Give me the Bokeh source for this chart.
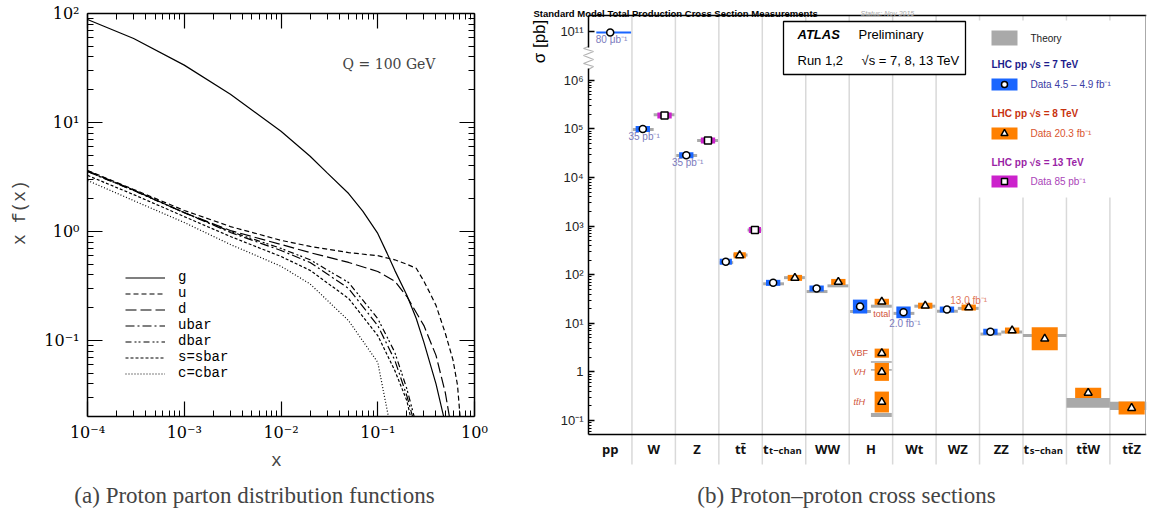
import math
from bokeh.plotting import figure
from bokeh.models import (Range1d, FixedTicker, LogAxis, Label, Legend, LegendItem,
                          PolyAnnotation, BoxAnnotation)
from bokeh.layouts import row
from bokeh.embed import file_html
from bokeh.resources import INLINE
from bokeh.core.properties import value

# ---------------- Panel (a) data: x f(x) at Q = 100 GeV ----------------
pdf_labels = ["g", "u", "d", "ubar", "dbar", "s=sbar", "c=cbar"]
g_x = [1e-4, 3e-4, 1e-3, 3e-3, 1e-2, 2e-2, 3e-2, 5e-2, 0.07, 0.1, 0.125, 0.15, 0.2, 0.25,
       0.3, 0.4, 0.48]
g_y = [88, 59, 33.6, 18.2, 8.3, 4.9, 3.45, 2.23, 1.54, 0.96, 0.63, 0.44, 0.26, 0.159,
       0.096, 0.040, 0.020]
u_x = [1e-4, 3e-4, 1e-3, 3e-3, 1e-2, 2e-2, 5e-2, 0.1, 0.15, 0.2, 0.25, 0.3, 0.35, 0.4,
       0.5, 0.6, 0.667, 0.71]
u_y = [3.63, 2.43, 1.56, 1.11, 0.83, 0.73, 0.64, 0.60, 0.55, 0.50, 0.46, 0.35, 0.267,
       0.21, 0.116, 0.066, 0.039, 0.020]
d_x = [1e-4, 3e-4, 1e-3, 3e-3, 1e-2, 2e-2, 5e-2, 0.1, 0.15, 0.2, 0.3, 0.4, 0.5, 0.55]
d_y = [3.6, 2.4, 1.49, 1.02, 0.76, 0.64, 0.52, 0.43, 0.35, 0.253, 0.137, 0.073, 0.033, 0.020]
ubar_x = [1e-4, 3e-4, 1e-3, 3e-3, 1e-2, 2e-2, 5e-2, 0.1, 0.15, 0.2, 0.229]
ubar_y = [3.55, 2.38, 1.49, 0.98, 0.67, 0.52, 0.30, 0.137, 0.066, 0.031, 0.020]
dbar_x = [1e-4, 3e-4, 1e-3, 3e-3, 1e-2, 2e-2, 5e-2, 0.1, 0.15, 0.2, 0.238]
dbar_y = [3.55, 2.38, 1.49, 1.00, 0.70, 0.55, 0.34, 0.159, 0.078, 0.036, 0.020]
s_x = [1e-4, 3e-4, 1e-3, 3e-3, 1e-2, 2e-2, 5e-2, 0.1, 0.15, 0.2, 0.218]
s_y = [3.27, 2.18, 1.37, 0.90, 0.59, 0.44, 0.243, 0.111, 0.053, 0.028, 0.020]
c_x = [1e-4, 3e-4, 1e-3, 3e-3, 1e-2, 2e-2, 5e-2, 0.1, 0.129]
c_y = [2.94, 1.92, 1.21, 0.76, 0.48, 0.33, 0.152, 0.063, 0.020]

pdf_xticks = [1e-4, 1e-3, 1e-2, 1e-1, 1.0]
pdf_xtick_labels = ["10⁻⁴", "10⁻³", "10⁻²", "10⁻¹", "10⁰"]
pdf_yticks = [0.1, 1.0, 10.0, 100.0]
pdf_ytick_labels = ["10⁻¹", "10⁰", "10¹", "10²"]
pdf_xlim = (1e-4, 1.0)
pdf_ylim = (10 ** -1.7, 100.0)

# ---------------- Panel (b) data: ATLAS cross sections [pb] ----------------
categories = ["pp", "W", "Z", "tt̄", "t_t−chan", "WW", "H", "Wt", "WZ", "ZZ",
              "t_s−chan", "tt̄W", "tt̄Z"]
sigma_ticks = [0.1, 1, 10, 100, 1e3, 1e4, 1e5, 1e6, 1e11]
sigma_tick_labels = ["10⁻¹", "1", "10¹", "10²", "10³", "10⁴", "10⁵", "10⁶", "10¹¹"]

cat7 = ["pp", "W", "Z", "tt̄", "t_t−chan", "WW", "H", "Wt", "WZ", "ZZ"]
data7 = [9.6e10, 9.9e4, 2.88e4, 185, 68, 52, 22.1, 16.8, 19.2, 6.7]
unc7 = [0.0, 0.03, 0.03, 0.04, 0.10, 0.08, 0.39, 0.32, 0.08, 0.08]
theo7 = [None, 9.7e4, 2.85e4, 177, 65, 45, 17.5, 16.0, 17.7, 6.0]
theo7_unc = [0, 0, 0, 0, 0, 0, 0, 0, 0, 0]

cat8 = ["tt̄", "t_t−chan", "WW", "H", "Wt", "WZ", "ZZ", "t_s−chan", "tt̄W", "tt̄Z"]
data8 = [250, 86, 71, 27.7, 23.0, 21.1, 7.1, 4.8, 0.37, 0.18]
unc8 = [0.04, 0.10, 0.08, 0.10, 0.12, 0.06, 0.06, 0.72, 0.27, 0.36]
theo8 = [253, 87, 59, 22.5, 22.5, 20.3, 6.6, 5.6, 0.23, 0.20]
theo8_unc = [0, 0, 0, 0, 0, 0, 0, 0, 0.26, 0.22]

cat13 = ["W", "Z", "tt̄"]
data13 = [1.89e5, 5.77e4, 830]
unc13 = [0.04, 0.04, 0.05]
theo13 = [1.95e5, 5.8e4, 830]
theo13_unc = [0, 0, 0]

higgs_modes = ["VBF", "VH", "tt̄H"]
higgs_data8 = [2.43, 1.0, 0.24]
higgs_unc8 = [0.24, 0.53, 0.64]
higgs_theo8 = [1.6, 1.1, 0.13]
higgs_theo8_unc = [0, 0, 0.1]

lumi_notes7 = {"pp": "80 μb⁻¹", "W": "35 pb⁻¹", "Z": "35 pb⁻¹", "Wt": "2.0 fb⁻¹"}
lumi_notes8 = {"WZ": "13.0 fb⁻¹"}

BORDER = 5
H = 516


# =====================================================================
# Panel (a)
# =====================================================================
def LX(px):
    return 10 ** ((px - 87) / 96.75 - 4)


def LY(py):
    return 10 ** (2 - (py - 13) / 109)


WA = 500
pa = figure(width=WA, height=H, x_axis_type="log", y_axis_type="log",
            x_range=Range1d(LX(BORDER), LX(WA - BORDER)),
            y_range=Range1d(LY(H - BORDER), LY(BORDER)),
            output_backend="svg", toolbar_location=None, min_border=BORDER,
            outline_line_color=None, background_fill_color="white",
            border_fill_color="white")
pa.grid.visible = False

x_minor = [m * 10 ** k for k in range(-4, 0) for m in range(2, 10)]
y_minor = [m * 10 ** k for k in range(-2, 2) for m in range(2, 10) if m * 10 ** k > 0.021]


def style_axis(ax, ticks, minor, loc, bounds, tin=15, tmin=6):
    ax.ticker = FixedTicker(ticks=ticks, minor_ticks=minor)
    ax.fixed_location = loc
    ax.bounds = bounds
    ax.major_tick_in = tin
    ax.major_tick_out = 0
    ax.minor_tick_in = tmin
    ax.minor_tick_out = 0
    ax.major_tick_line_width = 1.2
    ax.minor_tick_line_width = 1
    ax.axis_line_width = 1.5
    ax.major_label_text_font_size = "1px"
    ax.major_label_text_alpha = 0
    ax.major_label_standoff = 0


style_axis(pa.xaxis[0], pdf_xticks, x_minor, pdf_ylim[0], pdf_xlim)
style_axis(pa.yaxis[0], pdf_yticks, y_minor, pdf_xlim[0], pdf_ylim)
top_ax = LogAxis()
style_axis(top_ax, pdf_xticks, x_minor, pdf_ylim[1], pdf_xlim)
pa.add_layout(top_ax, "above")
right_ax = LogAxis()
style_axis(right_ax, pdf_yticks, y_minor, pdf_xlim[1], pdf_ylim)
pa.add_layout(right_ax, "right")

for t, lab in zip(pdf_xticks, pdf_xtick_labels):
    pa.add_layout(Label(x=t, y=LY(432), text=lab, text_align="center",
                        text_baseline="middle", text_font="DejaVu Serif",
                        text_font_size="16px", text_color="black"))
for t, lab in zip(pdf_yticks, pdf_ytick_labels):
    pa.add_layout(Label(x=LX(79), y=t, text=lab, text_align="right",
                        text_baseline="middle", text_font="DejaVu Serif",
                        text_font_size="16px", text_color="black"))

curves = [(g_x, g_y, "solid"), (u_x, u_y, "5 3"), (d_x, d_y, "11 4"),
          (ubar_x, ubar_y, "9 3 2 3"), (dbar_x, dbar_y, "6 3 2 2 2 3"),
          (s_x, s_y, "3 2"), (c_x, c_y, "1 2")]
items = []
for (xs, ys, dash), name in zip(curves, pdf_labels):
    r = pa.line(xs, ys, line_color="black", line_width=1.2, line_dash=dash)
    items.append(LegendItem(label=name, renderers=[r]))

leg = Legend(items=items, location=(125 - BORDER, H - BORDER - 381), orientation="vertical",
             glyph_width=40, glyph_height=15, label_height=15, label_standoff=13,
             spacing=0, padding=0, margin=0, border_line_color=None,
             background_fill_alpha=0, label_text_font="Liberation Mono",
             label_text_font_size="14px", label_text_color="black")
pa.add_layout(leg)

pa.add_layout(Label(x=LX(19), y=LY(212), text="x f(x)", angle=math.pi / 2,
                    text_align="center", text_baseline="middle",
                    text_font="Liberation Mono", text_font_size="18px"))
pa.add_layout(Label(x=LX(276), y=LY(460), text="x", text_align="center",
                    text_baseline="middle", text_font="Liberation Mono",
                    text_font_size="18px"))
pa.add_layout(Label(x=LX(393), y=LY(63), text="Q  =  100 GeV", text_align="center",
                    text_baseline="middle", text_font="DejaVu Serif",
                    text_font_size="14px"))
pa.add_layout(Label(x=LX(254), y=LY(495), text="(a) Proton parton distribution functions",
                    text_align="center", text_baseline="middle",
                    text_font="Liberation Serif", text_font_size="23px"))

# =====================================================================
# Panel (b)
# =====================================================================
COLW = 43.45
PXDEC = 1 / 48.6
X0 = 500  # left edge of panel (b) in picture pixels


def X(px):
    return (px - 588) / COLW


def Y(py):
    return 10 ** (-1 - (py - 420) * PXDEC)


def brk(v):
    return v / 1e4 if v > 1e7 else v


WB = 651
pb = figure(width=WB, height=H, y_axis_type="log",
            x_range=Range1d(X(X0 + BORDER), X(X0 + WB - BORDER)),
            y_range=Range1d(Y(H - BORDER), Y(BORDER)),
            output_backend="svg", toolbar_location=None, min_border=BORDER,
            outline_line_color=None, background_fill_color="white",
            border_fill_color="white")
pb.xaxis.visible = False
pb.grid.visible = False

XEND = X(1146)
ybot = Y(434)
ytop = Y(15)

# column separators
pb.segment(x0=list(range(1, len(categories))), y0=[Y(464)] * (len(categories) - 1),
           x1=list(range(1, len(categories))), y1=[ytop] * (len(categories) - 1),
           line_color="#d9d9d9", line_width=1.5)

yax = pb.yaxis[0]
ytk = [brk(t) for t in sigma_ticks]
ymin = [m * 10 ** k for k in range(-2, 6) for m in range(2, 10) if m * 10 ** k > 0.055]
yax.ticker = FixedTicker(ticks=ytk, minor_ticks=ymin)
yax.fixed_location = 0
yax.bounds = (ybot, ytop)
yax.axis_line_width = 1.5
yax.major_tick_in = 6
yax.major_tick_out = 0
yax.minor_tick_in = 3
yax.minor_tick_out = 0
yax.major_tick_line_width = 1.3
yax.major_label_text_font_size = "1px"
yax.major_label_text_alpha = 0
yax.major_label_standoff = 0
for t, lab in zip(ytk, sigma_tick_labels):
    pb.add_layout(Label(x=X(583), y=t, text=lab, text_align="right", text_baseline="middle",
                        text_font="Liberation Sans", text_font_size="13px",
                        text_color="#222222"))

# frame lines
pb.segment(x0=[0, 0], y0=[ybot, ytop], x1=[XEND, XEND], y1=[ybot, ytop],
           line_color="black", line_width=1.5)
pb.segment(x0=[X(1145)], y0=[ybot], x1=[X(1145)], y1=[ytop], line_color="#555555",
           line_width=1, line_dash="1 1")
# axis break
pb.add_layout(BoxAnnotation(left=X(585), right=X(591), bottom=Y(68), top=Y(47),
                            fill_color="white", fill_alpha=1, line_color=None))
zz_px = [(588, 69), (593, 66), (583, 63), (593, 59), (583, 55), (593, 51), (583, 48), (588, 46)]
zx = [X(a) for a, b in zz_px]
zy = [Y(b) for a, b in zz_px]
pb.add_layout(PolyAnnotation(xs=zx + zx[::-1], ys=zy + zy[::-1], fill_alpha=0,
                             line_color="black", line_width=1.2))

# category labels
ycat = Y(448)
main_x, main_t, sub_x, sub_t = [], [], [], []
for i, c in enumerate(categories):
    if "_" in c:
        a, b = c.split("_")
        main_x.append(i + 0.5 - 15.5 / COLW)
        main_t.append(a)
        sub_x.append(i + 0.5 - 15 / COLW)
        sub_t.append(b)
    else:
        main_x.append(i + 0.5)
        main_t.append(c)
align = ["right" if "_" in c else "center" for c in categories]
pb.text(x=main_x, y=[ycat] * len(main_x), text=main_t, text_align=align,
        text_baseline="middle", text_font=value("Open Sans"), text_font_size="13px",
        text_font_style="bold", text_color="#111111")
pb.text(x=sub_x, y=[Y(450)] * len(sub_x), text=sub_t, text_align="left",
        text_baseline="middle", text_font=value("Open Sans"), text_font_size="9.5px",
        text_font_style="bold", text_color="#111111")

# measurements
col_of = {c: i for i, c in enumerate(categories)}
energy_sets = [(7, cat7, data7, unc7, theo7, theo7_unc),
               (8, cat8, data8, unc8, theo8, theo8_unc),
               (13, cat13, data13, unc13, theo13, theo13_unc)]
present = {}
for e, cats, *_ in energy_sets:
    for c in cats:
        present.setdefault(c, []).append(e)
SLOT_X = {1: [0.5], 2: [0.25, 0.75], 3: [0.16, 0.48, 0.83]}
SLOT_TH = {1: [(0.0, 1.0)], 2: [(0.02, 0.5), (0.5, 0.98)],
           3: [(0.02, 0.33), (0.33, 0.66), (0.66, 0.98)]}
HALF_W = {1: 0.3, 2: 0.165, 3: 0.14}
COLORS = {7: "#1a66ff", 8: "#ff8000", 13: "#cc22cc"}
MARK = {7: ("circle", 7), 8: ("triangle", 8), 13: ("square", 7)}
THEORY = "#a9a9a9"


def band(v, rel, min_px):
    f = max(1 + rel, 10 ** (min_px * PXDEC))
    return brk(v / f), brk(v * f)


th = dict(left=[], right=[], bottom=[], top=[])
bx = {e: dict(left=[], right=[], bottom=[], top=[]) for e in (7, 8, 13)}
mk = {e: dict(x=[], y=[]) for e in (7, 8, 13)}
centers = {}
for e, cats, vals, uncs, ths, thu in energy_sets:
    for c, v, u, t, tu in zip(cats, vals, uncs, ths, thu):
        i = col_of[c]
        n = len(present[c])
        k = sorted(present[c]).index(e)
        xc = i + SLOT_X[n][k]
        centers[(c, e)] = (xc, v)
        if t is not None:
            lo, hi = band(t, tu, 1.5)
            a, b = SLOT_TH[n][k]
            th["left"].append(i + a)
            th["right"].append(min(i + b, XEND))
            th["bottom"].append(lo)
            th["top"].append(hi)
            lo, hi = band(v, u, 3)
            bx[e]["left"].append(xc - HALF_W[n])
            bx[e]["right"].append(xc + HALF_W[n])
        else:
            lo, hi = band(v, u, 1)
            bx[e]["left"].append(xc - 0.32)
            bx[e]["right"].append(xc + 0.48)
        bx[e]["bottom"].append(lo)
        bx[e]["top"].append(hi)
        mk[e]["x"].append(xc)
        mk[e]["y"].append(brk(v))

hi_col = col_of["H"]
for m, v, u, t, tu in zip(higgs_modes, higgs_data8, higgs_unc8, higgs_theo8, higgs_theo8_unc):
    xc = hi_col + 0.75
    lo, hi = band(t, tu, 0.8 if tu == 0 else 1.5)
    th["left"].append(hi_col + 0.5)
    th["right"].append(hi_col + 0.98)
    th["bottom"].append(lo)
    th["top"].append(hi)
    lo, hi = band(v, u, 3)
    bx[8]["left"].append(xc - 0.165)
    bx[8]["right"].append(xc + 0.165)
    bx[8]["bottom"].append(lo)
    bx[8]["top"].append(hi)
    mk[8]["x"].append(xc)
    mk[8]["y"].append(v)

pb.quad(left=th["left"], right=th["right"], bottom=th["bottom"], top=th["top"],
        fill_color=THEORY, line_color=None)
for e in (7, 8, 13):
    pb.quad(left=bx[e]["left"], right=bx[e]["right"], bottom=bx[e]["bottom"],
            top=bx[e]["top"], fill_color=COLORS[e], line_color=None)
for e in (7, 8, 13):
    mname, msize = MARK[e]
    pb.scatter(mk[e]["x"], mk[e]["y"], marker=mname, size=msize, fill_color="white",
               line_color="black", line_width=1.5)

# annotations near points
for c, txt in lumi_notes7.items():
    xc, v = centers[(c, 7)]
    dy = 11 if c == "Wt" else 7
    pb.add_layout(Label(x=xc + 0.03, y=brk(v) * 10 ** (-dy * PXDEC), text=txt,
                        text_align="center", text_baseline="middle",
                        text_font="Liberation Sans", text_font_size="10px",
                        text_color="#7b7bbd"))
for c, txt in lumi_notes8.items():
    xc, v = centers[(c, 8)]
    pb.add_layout(Label(x=xc, y=v * 10 ** (7 * PXDEC), text=txt, text_align="center",
                        text_baseline="middle", text_font="Liberation Sans",
                        text_font_size="10px", text_color="#e0765a"))
xc, v = centers[("H", 8)]
pb.add_layout(Label(x=xc, y=v * 10 ** (-12 * PXDEC), text="total", text_align="center",
                    text_baseline="middle", text_font="Liberation Sans",
                    text_font_size="9px", text_color="#d0543a"))
for m, v in zip(higgs_modes, higgs_data8):
    pb.add_layout(Label(x=hi_col + 0.23, y=v, text=m, text_align="center",
                        text_baseline="middle", text_font="Liberation Sans",
                        text_font_size="9px", text_color="#d0543a",
                        text_font_style="normal" if m == "VBF" else "italic"))

# ATLAS box
pb.quad(left=[X(783)], right=[X(965)], bottom=[Y(74)], top=[Y(21)], fill_color="white",
        line_color="black", line_width=1.3)
for txt, px, py, style in [("ATLAS", 797, 34, "bold italic"), ("Preliminary", 858, 34, "normal"),
                           ("Run 1,2", 797, 60, "normal"), ("√s = 7, 8, 13 TeV", 861, 60, "normal")]:
    pb.add_layout(Label(x=X(px), y=Y(py), text=txt, text_align="left", text_baseline="middle",
                        text_font="Liberation Sans", text_font_size="13px",
                        text_font_style=style, text_color="black"))

# legend panel
pb.quad(left=[X(972)], right=[X(1143)], bottom=[Y(197)], top=[Y(20)], fill_color="white",
        line_color=None)
pb.quad(left=[X(991)], right=[X(1017)], bottom=[Y(45)], top=[Y(30)], fill_color=THEORY,
        line_color=None)
pb.add_layout(Label(x=X(1030), y=Y(38), text="Theory", text_baseline="middle",
                    text_font="Liberation Sans", text_font_size="10px", text_color="#222222"))
leg_rows = [(7, 64, 84, "LHC pp  √s = 7 TeV", "Data  4.5 – 4.9 fb⁻¹", "#1c1c8c", "#3b3ba5"),
            (8, 113, 133, "LHC pp  √s = 8 TeV", "Data  20.3 fb⁻¹", "#c8320f", "#d9542f"),
            (13, 162, 181, "LHC pp  √s = 13 TeV", "Data  85 pb⁻¹", "#9a1fa6", "#aa44b8")]
for e, hy, ry, head, lab, hc, lc in leg_rows:
    pb.add_layout(Label(x=X(991), y=Y(hy), text=head, text_baseline="middle",
                        text_font="Liberation Sans", text_font_size="10px",
                        text_font_style="bold", text_color=hc))
    pb.quad(left=[X(991)], right=[X(1017)], bottom=[Y(ry + 6)], top=[Y(ry - 6)],
            fill_color=COLORS[e], line_color=None)
    mname, msize = MARK[e]
    pb.scatter([X(1004)], [Y(ry)], marker=mname, size=msize - 1, fill_color="white",
               line_color="black", line_width=1.5)
    pb.add_layout(Label(x=X(1030), y=Y(ry), text=lab, text_baseline="middle",
                        text_font="Liberation Sans", text_font_size="10px", text_color=lc))

# title, axis label, caption
pb.add_layout(Label(x=X(533), y=Y(13), text="Standard Model Total Production Cross Section Measurements",
                    text_baseline="alphabetic", text_font="Liberation Sans",
                    text_font_size="9.5px", text_font_style="bold", text_color="black"))
pb.add_layout(Label(x=X(860), y=Y(13), text="Status: Nov 2015", text_baseline="alphabetic",
                    text_font="Liberation Sans", text_font_size="7px",
                    text_font_style="italic", text_color="#aaaaaa"))
pb.add_layout(Label(x=X(539), y=Y(41), text="σ [pb]", angle=math.pi / 2, text_align="center",
                    text_baseline="middle", text_font="Liberation Sans",
                    text_font_size="17px", text_color="black"))
pb.add_layout(Label(x=X(846), y=Y(495), text="(b) Proton–proton cross sections",
                    text_align="center", text_baseline="middle",
                    text_font="Liberation Serif", text_font_size="23px"))

layout = row(pa, pb, spacing=0)
open("out.html", "w").write(file_html(layout, INLINE))
